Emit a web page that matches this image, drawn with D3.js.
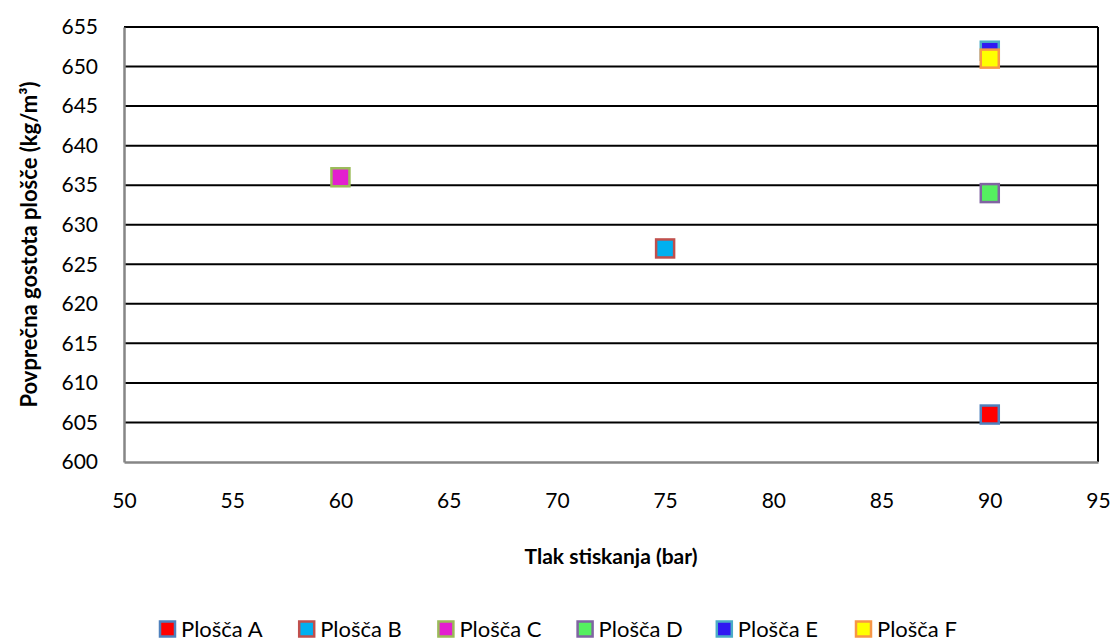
<!DOCTYPE html>
<html>
<head>
<meta charset="utf-8">
<script src="https://cdn.jsdelivr.net/npm/d3@7/dist/d3.min.js"></script>
<style>
  html, body { margin: 0; padding: 0; background: #fff; }
  svg { display: block; font-family: Lato, "Open Sans", sans-serif; }
</style>
</head>
<body>
<svg id="chart" width="1114" height="641"></svg>
<script>
// Series names and their (pressure, density) values
const seriesNames = ["Plošča A", "Plošča B", "Plošča C", "Plošča D", "Plošča E", "Plošča F"];
const pressures   = [90, 75, 60, 90, 90, 90];
const densities   = [606, 627, 636, 634, 652, 651];
const fillColors   = ["#FF0000", "#00B0F0", "#E31ECF", "#55F060", "#3019F2", "#FFFF00"];
const strokeColors = ["#4F81BD", "#C0504D", "#9BBB59", "#8064A2", "#4BACC6", "#F79646"];

const xTicks = [50, 55, 60, 65, 70, 75, 80, 85, 90, 95];
const yTicks = [600, 605, 610, 615, 620, 625, 630, 635, 640, 645, 650, 655];

const xTitle = "Tlak stiskanja (bar)";
const yTitle = "Povprečna gostota plošče (kg/m³)";

const svg = d3.select("#chart");
const plot = { left: 124, right: 1098, top: 27, bottom: 462 };

const x = d3.scaleLinear().domain([50, 95]).range([plot.left, plot.right]);
const y = d3.scaleLinear().domain([600, 655]).range([plot.bottom, plot.top]);

// Horizontal gridlines
svg.append("g")
  .selectAll("line")
  .data(yTicks.slice(1))
  .join("line")
  .attr("x1", plot.left).attr("x2", plot.right)
  .attr("y1", d => y(d)).attr("y2", d => y(d))
  .attr("stroke", "#000").attr("stroke-width", 2);

// Right border of plot area
svg.append("line")
  .attr("x1", plot.right).attr("x2", plot.right)
  .attr("y1", plot.top).attr("y2", plot.bottom)
  .attr("stroke", "#000").attr("stroke-width", 2);

// Y axis
const yAxis = svg.append("g")
  .attr("transform", `translate(${plot.left},0)`)
  .call(d3.axisLeft(y).tickValues(yTicks).tickSize(0).tickPadding(26).tickFormat(d3.format("d")));
yAxis.select(".domain").attr("stroke", "#868686").attr("stroke-width", 2.5);
yAxis.selectAll("text").attr("font-size", 21).attr("fill", "#000")
  .attr("font-family", "Lato, sans-serif");

// X axis
const xAxis = svg.append("g")
  .attr("transform", `translate(0,${plot.bottom})`)
  .call(d3.axisBottom(x).tickValues(xTicks).tickSize(0).tickPadding(31).tickFormat(d3.format("d")));
xAxis.select(".domain").attr("stroke", "#868686").attr("stroke-width", 2.5);
xAxis.selectAll("text").attr("font-size", 21).attr("fill", "#000")
  .attr("font-family", "Lato, sans-serif");

// Data markers
const markerSize = 18;
svg.append("g")
  .selectAll("rect")
  .data(seriesNames.map((name, i) => ({ name, px: pressures[i], dy: densities[i], i })))
  .join("rect")
  .attr("x", d => x(d.px) - markerSize / 2)
  .attr("y", d => y(d.dy) - markerSize / 2)
  .attr("width", markerSize).attr("height", markerSize)
  .attr("fill", d => fillColors[d.i])
  .attr("stroke", d => strokeColors[d.i])
  .attr("stroke-width", 2.5);

// Axis titles
svg.append("text")
  .attr("x", (plot.left + plot.right) / 2).attr("y", 564)
  .attr("text-anchor", "middle")
  .attr("font-size", 21).attr("font-weight", "bold")
  .text(xTitle);

svg.append("text")
  .attr("transform", `translate(37,${(plot.top + plot.bottom) / 2}) rotate(-90)`)
  .attr("text-anchor", "middle")
  .attr("font-size", 22).attr("font-weight", "bold")
  .text(yTitle);

// Legend
const legend = svg.append("g");
const legendStep = 139.2;
const legendX0 = 160;
const legendY = 629;
seriesNames.forEach((name, i) => {
  const g = legend.append("g").attr("transform", `translate(${legendX0 + i * legendStep},${legendY})`);
  g.append("rect")
    .attr("x", 0).attr("y", -7.5).attr("width", 15).attr("height", 15)
    .attr("fill", fillColors[i]).attr("stroke", strokeColors[i]).attr("stroke-width", 2.5);
  g.append("text")
    .attr("x", 21).attr("y", 0).attr("dy", "0.36em")
    .attr("font-size", 22)
    .text(name);
});
</script>
</body>
</html>
